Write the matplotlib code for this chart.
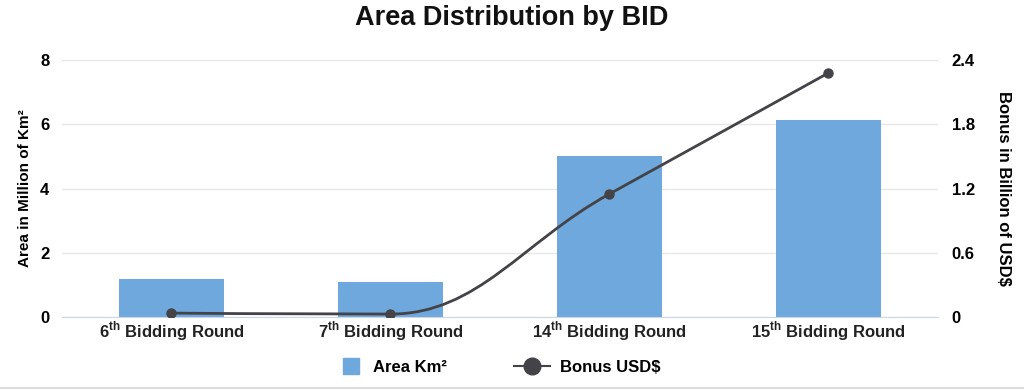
import matplotlib.pyplot as plt
import numpy as np
from matplotlib.path import Path
from matplotlib.patches import PathPatch, Patch, Rectangle
from matplotlib.lines import Line2D
from matplotlib.legend_handler import HandlerPatch

plt.rcParams['font.family'] = ['Liberation Sans', 'DejaVu Sans']
plt.rcParams['mathtext.fontset'] = 'custom'
plt.rcParams['mathtext.rm'] = 'Liberation Sans:bold'
plt.rcParams['mathtext.bf'] = 'Liberation Sans:bold'

# data
rounds = [r'6$^{\mathrm{th}}$ Bidding Round', r'7$^{\mathrm{th}}$ Bidding Round',
          r'14$^{\mathrm{th}}$ Bidding Round', r'15$^{\mathrm{th}}$ Bidding Round']
area = [1.18, 1.09, 5.02, 6.14]      # million km2
bonus = [0.037, 0.028, 1.15, 2.28]   # billion USD

barColor = '#6fa8dc'
lineColor = '#434348'

fig = plt.figure(figsize = (10.24, 3.9), dpi = 100)
ax = fig.add_axes([0.0605, 0.187, 0.8555, 0.659])
ax2 = ax.twinx()

x = np.arange(len(rounds))
ax.bar(x, area, width = 0.48, color = barColor, zorder = 2)
ax.set_xlim(-0.5, 3.5)
ax.set_ylim(0, 8)
ax.set_yticks([0, 2, 4, 6, 8])
ax.set_xticks(x)
ax.set_xticklabels(rounds, fontsize = 12, fontweight = 'bold', color = '#222222')
ax.yaxis.grid(True, color = '#e6e6e6', linewidth = 1, zorder = 0)
ax.set_axisbelow(True)
for s in ['top', 'right', 'left']:
    ax.spines[s].set_visible(False)
ax.spines['bottom'].set_color('#ccd6eb')
ax.tick_params(axis = 'x', length = 0, pad = 2)
ax.tick_params(axis = 'y', length = 0, labelsize = 12, pad = 9)
for lab in ax.get_yticklabels():
    lab.set_fontweight('bold')
ax.set_ylabel('Area in Million of Km²', fontsize = 11, fontweight = 'bold', labelpad = 6)

ax2.set_ylim(0, 2.4)
ax2.set_yticks([0, 0.6, 1.2, 1.8, 2.4])
ax2.set_yticklabels(['0', '0.6', '1.2', '1.8', '2.4'])
for s in ['top', 'right', 'left', 'bottom']:
    ax2.spines[s].set_visible(False)
ax2.tick_params(axis = 'y', length = 0, labelsize = 12, pad = 10)
for lab in ax2.get_yticklabels():
    lab.set_fontweight('bold')
ax2.set_ylabel('Bonus in Billion of USD$', fontsize = 12, fontweight = 'bold', rotation = -90, labelpad = 26)

# smooth line for the bonus series, Highcharts spline style control points
sx, sy = 219.0, 257.0 / 2.4
px = x * sx
py = np.array(bonus) * sy
def ctrl(i):
    sm, den = 1.5, 2.5
    lx = (sm * px[i] + px[i - 1]) / den
    ly = (sm * py[i] + py[i - 1]) / den
    rx = (sm * px[i] + px[i + 1]) / den
    ry = (sm * py[i] + py[i + 1]) / den
    corr = (ry - ly) * (rx - px[i]) / (rx - lx) + py[i] - ry
    ly += corr
    ry += corr
    lastY, nextY = py[i - 1], py[i + 1]
    if ly > lastY and ly > py[i]:
        ly = max(lastY, py[i]); ry = 2 * py[i] - ly
    elif ly < lastY and ly < py[i]:
        ly = min(lastY, py[i]); ry = 2 * py[i] - ly
    if ry > nextY and ry > py[i]:
        ry = max(nextY, py[i]); ly = 2 * py[i] - ry
    elif ry < nextY and ry < py[i]:
        ry = min(nextY, py[i]); ly = 2 * py[i] - ry
    return (lx, ly), (rx, ry)
n = len(px)
cps = [None] + [ctrl(i) for i in range(1, n - 1)] + [None]
verts = [(px[0], py[0])]
codes = [Path.MOVETO]
for i in range(1, n):
    c1 = cps[i - 1][1] if cps[i - 1] else (px[i - 1], py[i - 1])
    c2 = cps[i][0] if cps[i] else (px[i], py[i])
    verts += [c1, c2, (px[i], py[i])]
    codes += [Path.CURVE4] * 3
verts = [(vx / sx, vy / sy) for vx, vy in verts]
ax2.add_patch(PathPatch(Path(verts, codes), fill = False, edgecolor = lineColor, linewidth = 2, zorder = 3))
ax2.plot(x, bonus, 'o', color = lineColor, markersize = 6.5, zorder = 4)

fig.text(0.5, 0.953, 'Area Distribution by BID', ha = 'center', va = 'center', fontsize = 19.5, fontweight = 'bold', color = '#111111')

class SquareHandler(HandlerPatch):
    def create_artists(self, legend, orig, xd, yd, w, h, fs, trans):
        s = h * 1.35
        r = Rectangle((xd + w - s - 3, yd + (h - s) / 2), s, s, color = barColor, transform = trans)
        return [r]

handles = [Patch(color = barColor, label = 'Area Km²'),
           Line2D([0], [0], color = lineColor, marker = 'o', markersize = 12, linewidth = 1.5, label = 'Bonus USD$')]
leg = fig.legend(handles = handles, loc = 'center', bbox_to_anchor = (0.482, 0.058), ncol = 2, frameon = False,
                 prop = {'size': 12, 'weight': 'bold'}, handlelength = 2.2, columnspacing = 4.0, handletextpad = 0.6,
                 handler_map = {Patch: SquareHandler()})

fig.add_artist(Line2D([0, 1], [0.006, 0.006], color = '#dddddd', linewidth = 1.5, transform = fig.transFigure))

fig.savefig('out.png', dpi = 100)
